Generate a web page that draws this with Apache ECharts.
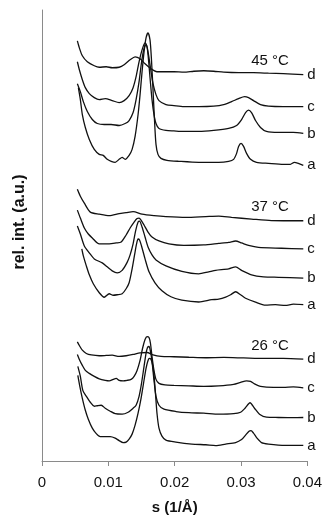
<!DOCTYPE html>
<html>
<head>
<meta charset="utf-8">
<script src="https://cdn.jsdelivr.net/npm/echarts@6/dist/echarts.min.js"></script>
<style>
  html, body { margin: 0; padding: 0; background: #fff; }
  #chart { width: 325px; height: 520px; }
</style>
</head>
<body>
<div id="chart"></div>
<script>
// tick labels of the s axis
const xTickLabels = ['0', '0.01', '0.02', '0.03', '0.04'];
const tempLabels = ['45 °C', '37 °C', '26 °C'];
const curveNames = ['a', 'b', 'c', 'd'];

// [s (1/Å), rel. int. (a.u., offset traces)]
const d45 = [[0.00533,422],[0.00563,415],[0.00608,407],[0.00683,401],[0.00788,397],[0.00863,395.5],[0.00968,396],[0.01058,395],[0.01163,395.5],[0.01238,398],[0.01328,403],[0.01403,406],[0.01478,404],[0.01553,399],[0.01643,394],[0.01733,391],[0.01838,391],[0.01988,391],[0.02138,390.5],[0.02288,391.5],[0.02438,392],[0.02588,391.5],[0.02738,390.5],[0.02963,390],[0.03188,390],[0.03413,389.5],[0.03638,389],[0.03938,388]];
const c45 = [[0.00533,401],[0.00563,393],[0.00608,383],[0.00653,375],[0.00713,369],[0.00788,365],[0.00863,363],[0.00953,364],[0.01058,362],[0.01163,360],[0.01238,362],[0.01313,367],[0.01373,375],[0.01418,386],[0.01463,401],[0.01508,413],[0.01553,420],[0.01583,416],[0.01613,405],[0.01643,391],[0.01673,379],[0.01718,368],[0.01763,362],[0.01868,358],[0.01988,357],[0.02138,356],[0.02363,356],[0.02588,356.5],[0.02738,358],[0.02858,361],[0.02963,364],[0.03053,366],[0.03113,365],[0.03188,362],[0.03293,358],[0.03413,356.5],[0.03638,356],[0.03938,356]];
const b45 = [[0.00533,379],[0.00578,371],[0.00623,361],[0.00683,351],[0.00758,343],[0.00833,339],[0.00938,338],[0.01043,338],[0.01163,337],[0.01253,339],[0.01313,342],[0.01373,350],[0.01418,363],[0.01463,381],[0.01493,397],[0.01523,410],[0.01553,417],[0.01575,418],[0.01598,408],[0.01628,385],[0.01658,363],[0.01688,348],[0.01718,339],[0.01763,334],[0.01868,332],[0.01988,331.5],[0.02138,331],[0.02363,331],[0.02588,332],[0.02813,334],[0.02933,337],[0.03008,343],[0.03068,350],[0.03113,352.5],[0.03158,350],[0.03218,342],[0.03293,335],[0.03383,331],[0.03563,330],[0.03788,330],[0.03938,329]];
const a45 = [[0.00548,375],[0.00578,363],[0.00608,348],[0.00653,335],[0.00713,323],[0.00788,313],[0.00863,308],[0.00923,307],[0.00983,303],[0.01043,301],[0.01103,300],[0.01163,303],[0.01208,305],[0.01253,303],[0.01313,307],[0.01358,313],[0.01403,326],[0.01448,348],[0.01478,368],[0.01508,391],[0.01538,411],[0.01568,425],[0.01598,430],[0.01628,423],[0.0165,403],[0.01673,373],[0.01695,343],[0.01718,318],[0.01748,308],[0.01793,304],[0.01883,302],[0.02063,301],[0.02363,300],[0.02663,300],[0.02813,301],[0.02888,303],[0.02933,309],[0.02963,316],[0.03,319],[0.03038,316],[0.03083,309],[0.03143,303],[0.03233,300],[0.03413,299],[0.03638,298],[0.03743,298],[0.03803,300],[0.03863,299],[0.03938,297]];

const d37 = [[0.00533,273],[0.00578,266],[0.00638,259],[0.00728,250],[0.00863,248],[0.01013,246.5],[0.01163,248.5],[0.01268,249.5],[0.01373,250.5],[0.01508,248],[0.01688,246.5],[0.01868,245.5],[0.02168,244.7],[0.02468,245.5],[0.02663,246],[0.02858,244.7],[0.03158,243],[0.03458,241.5],[0.03938,241.3]];
const c37 = [[0.00533,252],[0.00578,244],[0.00638,234],[0.00698,228],[0.00758,224],[0.00863,218],[0.01013,218],[0.01118,219],[0.01193,220],[0.01268,227],[0.01328,234],[0.01388,240],[0.01433,243.5],[0.01463,244],[0.01493,242],[0.01538,237],[0.01598,230],[0.01658,225],[0.01763,221],[0.01913,218],[0.02138,216.5],[0.02438,217],[0.02663,218.5],[0.02813,219.5],[0.02918,221],[0.03008,219],[0.03113,216.5],[0.03263,214.5],[0.03608,213.7],[0.03938,213]];
const b37 = [[0.00533,236],[0.00578,228],[0.00638,216],[0.00713,209],[0.00788,203],[0.00908,199],[0.00983,195],[0.01058,191],[0.01133,189],[0.01208,191.5],[0.01283,199.5],[0.01328,207],[0.01373,218],[0.0141,231],[0.01448,240],[0.0147,241],[0.01508,235],[0.01553,225],[0.01598,215],[0.01658,207],[0.01718,202],[0.01868,196],[0.02108,190.5],[0.02363,188],[0.02513,190],[0.02618,191.5],[0.02813,193],[0.02918,195],[0.03008,191.5],[0.03158,187],[0.03338,185],[0.03563,184.5],[0.03938,183.7]];
const a37 = [[0.006,213],[0.00623,206],[0.00668,196],[0.00713,187],[0.00773,178],[0.00863,169],[0.00938,164.5],[0.01013,168],[0.01073,166.5],[0.01133,167],[0.01208,168],[0.01268,173],[0.01313,179],[0.01358,193],[0.01395,207],[0.01425,218],[0.01448,223],[0.0147,222],[0.015,216],[0.01553,203],[0.01613,190],[0.01703,179],[0.01808,171],[0.01943,165],[0.02108,161.5],[0.02363,159.7],[0.02558,162],[0.02663,162.5],[0.02768,164.5],[0.02843,167],[0.02918,170],[0.02993,167],[0.03068,163.5],[0.03218,159.5],[0.03368,156.5],[0.03518,157],[0.03668,156.3],[0.03788,157.5],[0.03938,157]];

const d26 = [[0.00533,119.7],[0.00563,116],[0.00608,111.3],[0.00668,108],[0.00743,106.5],[0.00863,105.7],[0.00968,106],[0.01058,106.3],[0.01163,105],[0.01268,105.7],[0.01373,107],[0.01478,108.7],[0.01583,109],[0.01673,106.5],[0.01793,105],[0.01988,104.7],[0.02213,104.2],[0.02468,103.7],[0.02738,104],[0.03038,103.5],[0.03368,103],[0.03638,103],[0.03938,102.3]];
const c26 = [[0.00533,107],[0.00563,102],[0.00608,96],[0.00653,91],[0.00713,88],[0.00788,85],[0.00863,82.5],[0.00953,81],[0.01013,80.5],[0.01073,82],[0.01118,83],[0.01163,81],[0.01223,80.5],[0.01283,81],[0.01343,82],[0.01388,85],[0.01433,91],[0.01478,101],[0.01515,113],[0.01553,122],[0.01583,125],[0.01613,124],[0.01635,118],[0.01658,105],[0.01688,91],[0.01718,82],[0.01763,78],[0.01853,76.5],[0.01988,76],[0.02213,75.5],[0.02438,75],[0.02663,75.5],[0.02888,77],[0.02993,79],[0.03083,80.5],[0.03143,80],[0.03203,77.5],[0.03293,75],[0.03488,74],[0.03638,74],[0.03788,74.5],[0.03938,73.5]];
const b26 = [[0.0054,95],[0.00578,85],[0.00615,71],[0.00668,65],[0.00728,59],[0.00788,55],[0.00833,55.5],[0.00893,56],[0.00953,53],[0.01028,50],[0.01103,47.5],[0.01208,47],[0.01298,49],[0.01373,53],[0.01418,56],[0.01463,65],[0.015,78],[0.01538,95],[0.01568,108],[0.0159,114],[0.01613,115],[0.01635,110],[0.01658,100],[0.01688,81],[0.01718,65],[0.01763,56],[0.01838,52],[0.02018,49.7],[0.02213,48.5],[0.02438,48],[0.02663,47],[0.02888,47.5],[0.02993,49],[0.0306,53],[0.03135,58.5],[0.03203,53],[0.03278,47],[0.03383,44],[0.03563,43.7],[0.03788,43.5],[0.03938,43.7]];
const a26 = [[0.0054,86],[0.0057,75],[0.00608,63],[0.00653,51],[0.00698,42],[0.00758,33],[0.00818,27.5],[0.00878,24.5],[0.00953,24.5],[0.01028,24.5],[0.01103,23],[0.01163,20.5],[0.01223,18.5],[0.01268,19],[0.01313,22],[0.01358,27],[0.01403,36],[0.01448,48],[0.01493,63],[0.0153,78],[0.01568,93],[0.01598,101],[0.0162,103],[0.01643,102],[0.01665,97],[0.01688,86],[0.0171,68],[0.01733,48],[0.01763,33],[0.01808,25],[0.01868,21],[0.02018,19],[0.02258,17],[0.02468,16.3],[0.02618,15.5],[0.02768,17],[0.02918,18.5],[0.03008,21.5],[0.03068,26],[0.0312,30],[0.0315,30.5],[0.03188,28],[0.0324,23],[0.03308,18.5],[0.03413,17],[0.03668,15.7],[0.03938,15.7]];

const groups = [
  [a45, b45, c45, d45],
  [a37, b37, c37, d37],
  [a26, b26, c26, d26]
];

const FONT = 'Liberation Sans, Arial, sans-serif';
const AXIS_GREY = '#8a8a8a';

const chart = echarts.init(document.getElementById('chart'), null, { renderer: 'canvas' });

const series = [];
groups.forEach(function (g) {
  g.forEach(function (data, i) {
    series.push({
      type: 'line',
      data: data,
      showSymbol: false,
      smooth: 0.25,
      animation: false,
      silent: true,
      lineStyle: { color: '#111', width: 1.3 },
      endLabel: {
        show: true,
        formatter: curveNames[i],
        color: '#111',
        fontSize: 15,
        fontFamily: FONT,
        distance: 4
      }
    });
  });
});

const tempY = [61, 207, 346];

chart.setOption({
  animation: false,
  grid: { left: 42, right: 16, top: 10, bottom: 57 },
  xAxis: {
    type: 'value',
    min: 0,
    max: 0.04,
    interval: 0.01,
    name: 's (1/Å)',
    nameLocation: 'middle',
    nameGap: 39,
    nameTextStyle: { fontSize: 15, fontWeight: 'bold', color: '#111', fontFamily: FONT },
    axisLine: { show: true, lineStyle: { color: AXIS_GREY, width: 1 } },
    axisTick: { show: true, inside: false, length: 5, lineStyle: { color: AXIS_GREY } },
    axisLabel: {
      margin: 14,
      fontSize: 15,
      color: '#111',
      fontFamily: FONT,
      formatter: function (v) { return xTickLabels[Math.round(v / 0.01)]; }
    },
    splitLine: { show: false }
  },
  yAxis: {
    type: 'value',
    min: 0,
    max: 453,
    axisLine: { show: true, lineStyle: { color: AXIS_GREY, width: 1 } },
    axisTick: { show: false },
    axisLabel: { show: false },
    splitLine: { show: false }
  },
  graphic: [
    {
      type: 'text',
      x: 20,
      y: 222,
      rotation: Math.PI / 2,
      style: {
        text: 'rel. int. (a.u.)',
        font: 'bold 16px ' + FONT,
        fill: '#111',
        align: 'center',
        verticalAlign: 'middle'
      }
    }
  ].concat(tempLabels.map(function (t, i) {
    return {
      type: 'text',
      x: 270,
      y: tempY[i],
      style: {
        text: t,
        font: '15px ' + FONT,
        fill: '#111',
        align: 'center',
        verticalAlign: 'middle'
      }
    };
  })),
  series: series
});
</script>
</body>
</html>
